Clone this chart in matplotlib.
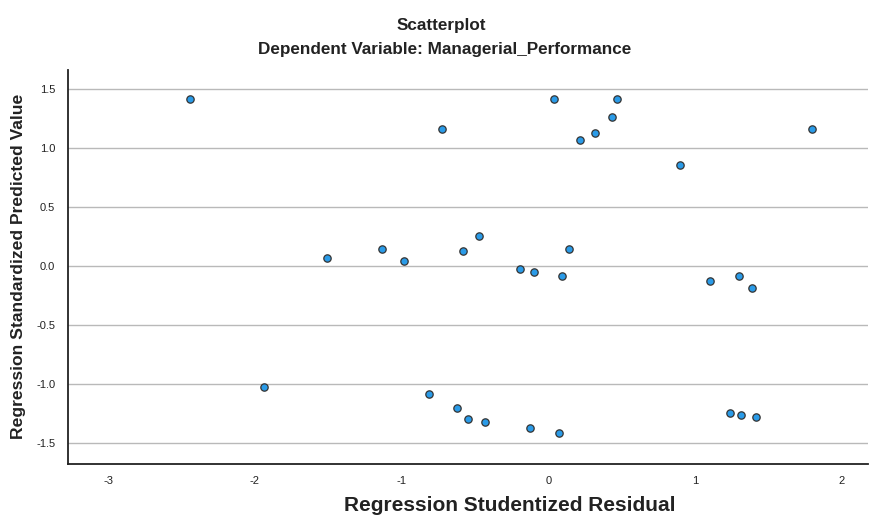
import matplotlib.pyplot as plt

plt.rcParams['font.family'] = ['Liberation Sans', 'DejaVu Sans']

# residuals vs predicted values
resid = [-2.445, -1.941, -1.509, -1.130, -0.985, -0.813, -0.723, -0.620,
         -0.584, -0.547, -0.475, -0.429, -0.191, -0.100, -0.125, 0.039,
         0.070, 0.095, 0.139, 0.216, 0.320, 0.436, 0.466, 0.900,
         1.104, 1.241, 1.300, 1.316, 1.389, 1.418, 1.797]
pred = [1.415, -1.025, 0.073, 0.144, 0.048, -1.085, 1.167, -1.198,
        0.127, -1.297, 0.261, -1.317, -0.025, -0.046, -1.373, 1.418,
        -1.410, -0.082, 0.144, 1.070, 1.130, 1.265, 1.415, 0.858,
        -0.125, -1.240, -0.085, -1.257, -0.181, -1.277, 1.163]

x_ticks = [-3, -2, -1, 0, 1, 2]
y_ticks = [-1.5, -1.0, -0.5, 0.0, 0.5, 1.0, 1.5]

fig = plt.figure(figsize=(8.69, 5.15), dpi=100)
ax = fig.add_axes([0.078, 0.100, 0.921, 0.764])

for yt in y_ticks:
    ax.axhline(yt, color='#b9b9b9', lw=1, zorder=1)

ax.scatter(resid, pred, s=28, color='#2a9be8', edgecolors='#333333',
           linewidths=0.9, zorder=3)

ax.set_xlim(-3.275, 2.18)
ax.set_ylim(-1.67, 1.664)
ax.set_xticks(x_ticks)
ax.set_xticklabels([str(t) for t in x_ticks])
ax.set_yticks(y_ticks)
ax.set_yticklabels([f"{t:.1f}" for t in y_ticks])
ax.tick_params(length=0, labelsize=8, colors='#222222', pad=9)

for side in ['top', 'right']:
    ax.spines[side].set_visible(False)
for side in ['left', 'bottom']:
    ax.spines[side].set_color('#222222')
    ax.spines[side].set_linewidth(1.3)

fig.text(0.508, 0.951, "Scatterplot", ha='center', va='center',
         fontsize=12.3, fontweight='bold', color='#222222')
fig.text(0.512, 0.903, "Dependent Variable: Managerial_Performance",
         ha='center', va='center', fontsize=12.3, fontweight='bold', color='#222222')
fig.text(0.587, 0.019, "Regression Studentized Residual", ha='center',
         va='center', fontsize=15, fontweight='bold', color='#222222')
fig.text(0.021, 0.483, "Regression Standardized Predicted Value", ha='center',
         va='center', rotation=90, fontsize=12.6, fontweight='bold', color='#222222')

fig.savefig('out.png', dpi=100)
